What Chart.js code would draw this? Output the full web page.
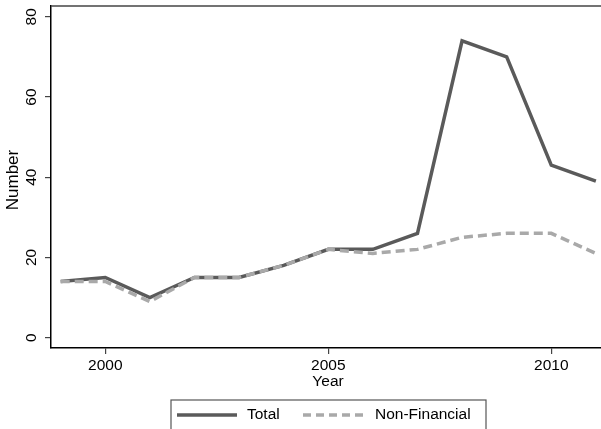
<!DOCTYPE html>
<html>
<head>
<meta charset="utf-8">
<script src="https://cdn.jsdelivr.net/npm/chart.js@4"></script>
<style>
  html, body { margin: 0; padding: 0; background: #fff; }
  #wrap { width: 601px; height: 429px; }
</style>
</head>
<body>
<div id="wrap"><canvas id="c" width="601" height="429"></canvas></div>
<script>
// Deals per year
const years = [1999, 2000, 2001, 2002, 2003, 2004, 2005, 2006, 2007, 2008, 2009, 2010, 2011];
const totalDeals = [14, 15, 10, 15, 15, 18, 22, 22, 26, 74, 70, 43, 39];
const nonFinancialDeals = [14, 14, 9, 15, 15, 18, 22, 21, 22, 25, 26, 26, 21];

const xTickValues = [2000, 2005, 2010];
const yTickValues = [0, 20, 40, 60, 80];
const seriesNames = ['Total', 'Non-Financial'];

const FONT = '"Liberation Sans", Arial, Helvetica, sans-serif';
const TOTAL_COLOR = '#5a5a5a';
const NONFIN_COLOR = '#a9a9a9';

const toPoints = (vals) => years.map((yr, i) => ({ x: yr, y: vals[i] }));

// Axis labels, titles, frame top and the boxed legend
const decorations = {
  id: 'decorations',
  afterDraw(chart) {
    const { ctx, chartArea: a, scales } = chart;
    const ys = scales.y;
    ctx.save();

    // top edge of the plot region
    ctx.strokeStyle = '#444';
    ctx.lineWidth = 1.5;
    ctx.beginPath();
    ctx.moveTo(a.left, a.top);
    ctx.lineTo(a.right, a.top);
    ctx.stroke();

    ctx.fillStyle = '#000';
    ctx.font = '15.5px ' + FONT;
    ctx.textAlign = 'center';
    ctx.textBaseline = 'middle';

    // rotated y tick labels
    ys.ticks.forEach(t => {
      const py = ys.getPixelForValue(t.value);
      ctx.save();
      ctx.translate(32, py);
      ctx.rotate(-Math.PI / 2);
      ctx.fillText(String(t.value), 0, 0);
      ctx.restore();
    });

    // y axis title
    ctx.save();
    ctx.font = '17px ' + FONT;
    ctx.translate(13, (a.top + a.bottom) / 2 + 3);
    ctx.rotate(-Math.PI / 2);
    ctx.fillText('Number', 0, 0);
    ctx.restore();

    // x axis title
    ctx.fillText('Year', (a.left + a.right) / 2 + 2, 382);

    // legend
    const bx = 171, by = 400, bw = 315, bh = 32;
    ctx.strokeStyle = '#555';
    ctx.lineWidth = 1.2;
    ctx.strokeRect(bx, by, bw, bh);
    const ly = 415;
    ctx.lineWidth = 3.5;
    ctx.strokeStyle = TOTAL_COLOR;
    ctx.beginPath();
    ctx.moveTo(177, ly);
    ctx.lineTo(237, ly);
    ctx.stroke();
    ctx.strokeStyle = NONFIN_COLOR;
    ctx.setLineDash([8, 5]);
    ctx.beginPath();
    ctx.moveTo(303, ly);
    ctx.lineTo(363, ly);
    ctx.stroke();
    ctx.setLineDash([]);
    ctx.textAlign = 'left';
    ctx.fillStyle = '#000';
    ctx.fillText(seriesNames[0], 247, ly);
    ctx.fillText(seriesNames[1], 375, ly);

    ctx.restore();
  }
};

new Chart(document.getElementById('c'), {
  type: 'line',
  data: {
    datasets: [
      {
        label: seriesNames[0],
        data: toPoints(totalDeals),
        borderColor: TOTAL_COLOR,
        borderWidth: 3.5,
        pointRadius: 0,
        tension: 0,
        order: 1
      },
      {
        label: seriesNames[1],
        data: toPoints(nonFinancialDeals),
        borderColor: NONFIN_COLOR,
        borderWidth: 3.5,
        borderDash: [9, 5],
        pointRadius: 0,
        tension: 0,
        order: 0
      }
    ]
  },
  options: {
    responsive: false,
    animation: false,
    layout: { padding: { top: 6, right: 0, left: 0, bottom: 0 } },
    plugins: {
      legend: { display: false },
      tooltip: { enabled: false },
      title: { display: false }
    },
    scales: {
      x: {
        type: 'linear',
        min: 1998.783,
        max: 2011.115,
        afterBuildTicks: s => { s.ticks = xTickValues.map(v => ({ value: v })); },
        afterFit: s => { s.height = 81; },
        border: { display: true, color: '#000', width: 1.5 },
        grid: { drawOnChartArea: false, drawTicks: true, tickLength: 6, color: '#444', lineWidth: 1.2 },
        ticks: {
          color: '#000',
          font: { family: FONT, size: 15.5 },
          padding: 2,
          maxRotation: 0,
          callback: v => String(v)
        }
      },
      y: {
        type: 'linear',
        min: -2.6,
        max: 82.7,
        afterBuildTicks: s => { s.ticks = yTickValues.map(v => ({ value: v })); },
        afterFit: s => { s.width = 51; },
        border: { display: true, color: '#000', width: 1.5 },
        grid: { drawOnChartArea: false, drawTicks: true, tickLength: 6, color: '#444', lineWidth: 1.2 },
        ticks: { display: false }
      }
    }
  },
  plugins: [decorations]
});
</script>
</body>
</html>
